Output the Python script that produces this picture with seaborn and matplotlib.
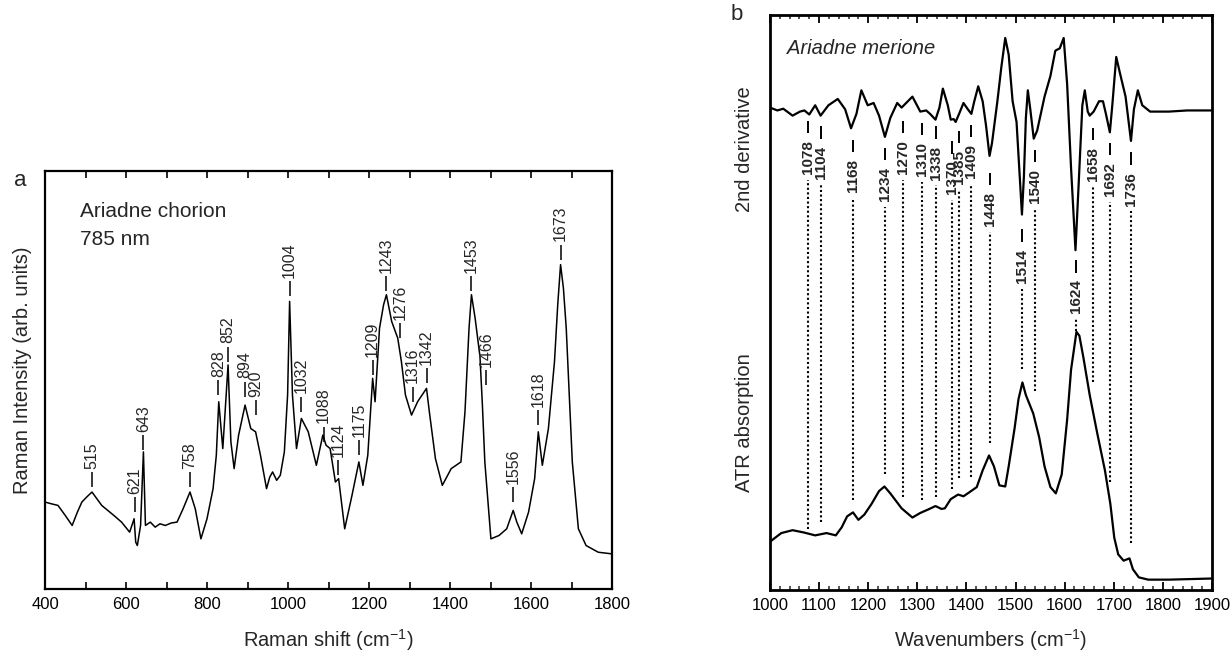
import matplotlib
matplotlib.use('Agg')
import matplotlib.pyplot as plt
import seaborn as sns
import pandas as pd
from matplotlib.ticker import MultipleLocator

# ---- panel a: Raman spectrum (arb. units 0-100)
raman_shift = [400, 415, 432, 450, 467, 480, 491, 503, 516, 528, 540, 555, 570, 589, 609,
               620, 624, 628, 636, 643, 648, 660, 672, 684, 697, 712, 726, 741, 758, 771,
               785, 800, 815, 823, 829, 839, 852, 859, 867, 878, 894, 908, 920, 932, 947,
               955, 962, 972, 981, 991, 999, 1004, 1011, 1021, 1033, 1050, 1070, 1086,
               1094, 1104, 1117, 1125, 1140, 1158, 1175, 1185, 1197, 1209, 1215, 1226,
               1236, 1243, 1256, 1271, 1280, 1290, 1305, 1320, 1342, 1349, 1364, 1381,
               1403, 1427, 1437, 1447, 1453, 1462, 1474, 1480, 1486, 1501, 1521, 1540,
               1556, 1565, 1577, 1594, 1609, 1618, 1628, 1643, 1658, 1666, 1673, 1680,
               1687, 1702, 1717, 1736, 1766, 1800]
raman_int = [20.8, 20.4, 20.0, 17.6, 15.2, 18.4, 20.8, 22.0, 23.2, 21.6, 20.0, 18.8, 17.6,
             16.0, 13.6, 16.8, 11.2, 10.4, 15.2, 32.8, 15.2, 16.0, 14.8, 15.6, 15.2, 15.8,
             16.0, 19.2, 23.2, 19.2, 12.0, 16.8, 24.0, 32.0, 44.8, 33.6, 53.6, 35.2, 28.8,
             36.8, 44.0, 38.4, 37.6, 32.0, 24.0, 26.8, 28.0, 26.0, 27.2, 32.8, 46.4, 68.8,
             46.4, 33.6, 40.8, 37.6, 29.6, 36.8, 34.4, 33.6, 25.6, 26.4, 14.4, 22.4, 30.4,
             24.8, 32.0, 50.4, 44.8, 62.4, 68.0, 70.4, 64.0, 60.0, 54.4, 46.4, 41.6, 44.8,
             48.0, 42.4, 31.2, 24.8, 28.8, 30.4, 42.4, 62.4, 70.4, 64.8, 55.6, 44.0, 30.4,
             12.0, 12.8, 14.4, 18.8, 16.0, 13.2, 18.4, 26.4, 37.6, 29.6, 38.4, 54.4, 68.0,
             77.6, 72.0, 62.4, 30.4, 14.4, 10.4, 8.8, 8.4]
raman_peaks = [515, 621, 643, 758, 828, 852, 894, 920, 1004, 1032, 1088, 1124, 1175,
               1209, 1243, 1276, 1316, 1342, 1453, 1466, 1556, 1618, 1673]
raman_tick_base = [24.4, 18.4, 33.2, 24.4, 46.4, 54.4, 46.0, 41.6, 70.0, 42.4, 35.2, 27.2,
                   32.0, 51.2, 71.2, 60.0, 44.8, 49.2, 71.2, 48.8, 20.8, 39.2, 78.8]
# a few labels sit slightly off their band in the original, to clear the curve
raman_label_shift = {1316: -8, 1466: 24}

# ---- panel b: FTIR, 2nd derivative and ATR absorption
d2_wn = [1000, 1015, 1027, 1046, 1061, 1070, 1080, 1092, 1103, 1119, 1138, 1153, 1165,
         1176, 1186, 1199, 1211, 1222, 1234, 1245, 1259, 1268, 1290, 1306, 1318, 1326,
         1337, 1345, 1352, 1362, 1368, 1374, 1378, 1385, 1394, 1402, 1410, 1416, 1424,
         1433, 1440, 1447, 1452, 1463, 1471, 1479, 1486, 1494, 1502, 1509, 1513, 1517,
         1521, 1525, 1530, 1537, 1544, 1559, 1571, 1581, 1590, 1598, 1605, 1613, 1622,
         1628, 1636, 1641, 1647, 1651, 1659, 1670, 1678, 1684, 1692, 1697, 1705, 1712,
         1724, 1735, 1741, 1749, 1758, 1774, 1812, 1850, 1900]
d2_val = [83.9, 83.4, 83.7, 82.5, 83.2, 83.4, 82.7, 84.3, 82.5, 84.3, 85.4, 83.6, 80.3,
          82.8, 86.9, 84.3, 84.7, 82.5, 78.8, 82.1, 84.7, 83.9, 85.8, 83.2, 83.4, 82.8,
          81.8, 83.9, 87.2, 84.3, 81.8, 81.9, 81.4, 82.8, 84.7, 83.7, 82.8, 85.0, 87.6,
          85.0, 80.7, 75.5, 77.7, 85.0, 90.9, 96.0, 93.1, 85.0, 81.4, 71.2, 65.3, 71.9,
          82.1, 86.9, 83.6, 78.5, 79.9, 85.8, 89.4, 93.8, 94.2, 96.0, 88.0, 73.4, 59.1,
          69.7, 84.3, 86.9, 83.2, 82.5, 83.2, 85.0, 85.0, 82.8, 79.6, 84.3, 92.7, 90.1,
          85.8, 78.1, 83.6, 86.9, 84.3, 83.2, 83.2, 83.4, 83.4]
atr_wn = [1000, 1023, 1046, 1069, 1092, 1115, 1134, 1146, 1157, 1169, 1180, 1192, 1207,
          1222, 1233, 1245, 1268, 1290, 1306, 1322, 1337, 1349, 1356, 1368, 1383, 1394,
          1406, 1421, 1433, 1446, 1456, 1467, 1479, 1486, 1498, 1506, 1514, 1521, 1536,
          1548, 1559, 1571, 1582, 1594, 1605, 1613, 1624, 1630, 1638, 1651, 1666, 1682,
          1693, 1701, 1709, 1720, 1732, 1739, 1751, 1770, 1812, 1900]
atr_val = [8.4, 9.9, 10.4, 10.0, 9.5, 9.9, 9.5, 10.9, 12.8, 13.5, 12.2, 13.1, 15.0, 17.2,
           18.0, 16.8, 14.2, 12.6, 13.4, 14.0, 14.6, 14.1, 14.2, 15.8, 16.6, 16.3, 17.0,
           17.9, 20.8, 23.4, 21.5, 18.2, 18.0, 21.5, 28.1, 33.2, 36.1, 33.9, 30.7, 26.6,
           21.5, 17.9, 16.8, 20.1, 29.6, 38.3, 44.9, 44.2, 40.5, 33.9, 27.4, 20.8, 15.0,
           9.1, 6.2, 5.1, 5.5, 3.6, 2.2, 1.8, 1.8, 2.0]
ir_peaks = [1078, 1104, 1168, 1234, 1270, 1310, 1338, 1370, 1385, 1409, 1448, 1514,
            1540, 1624, 1658, 1692, 1736]
ir_label_top = [78.2, 77.3, 74.9, 73.5, 78.2, 77.9, 77.3, 74.7, 76.5, 77.5, 69.2, 59.3,
                73.2, 54.0, 77.0, 74.4, 72.7]
ir_dot_bottom = [10.6, 11.8, 15.7, 20.1, 16.1, 15.7, 16.1, 17.6, 19.4, 19.7, 25.6, 38.4,
                 34.6, 45.0, 36.2, 18.7, 8.1]

sns.set_theme(style='ticks')
plt.rcParams['font.family'] = ['Liberation Sans', 'DejaVu Sans']
plt.rcParams['mathtext.fontset'] = 'custom'
plt.rcParams['mathtext.rm'] = 'Liberation Sans'
plt.rcParams['mathtext.it'] = 'Liberation Sans:italic'

W, H = 1230, 657
fig = plt.figure(figsize=(12.3, 6.57), dpi=100)
ax1 = fig.add_axes([45 / W, 1 - 589 / H, 567 / W, 418 / H])
ax2 = fig.add_axes([770 / W, 1 - 590 / H, 442 / W, 575 / H])

# ---------------- panel a
df_a = pd.DataFrame({'shift': raman_shift, 'intensity': raman_int})
sns.lineplot(data=df_a, x='shift', y='intensity', ax=ax1, color='black', lw=1.1,
             sort=False, estimator=None)
ax1.set_xlim(400, 1800)
ax1.set_ylim(0, 100)
ax1.set_xlabel('')
ax1.set_ylabel('')
ax1.set_yticks([])
ax1.xaxis.set_major_locator(MultipleLocator(200))
ax1.xaxis.set_minor_locator(MultipleLocator(100))
ax1.tick_params(axis='x', which='both', direction='in', top=True, length=5, width=1.2,
                labelsize=12, pad=6, colors='black')
for s in ax1.spines.values():
    s.set_linewidth(1.6)
    s.set_color('black')

for x, yb in zip(raman_peaks, raman_tick_base):
    tx = x + raman_label_shift.get(x, 0)
    ax1.vlines(tx, yb, yb + 3.6, color='black', lw=1.1)
    ax1.text(tx, yb + 4.4, str(x), rotation=90, ha='center', va='bottom', fontsize=11.5)

ax1.text(486, 90.4, 'Ariadne chorion', fontsize=15, va='center')
ax1.text(486, 83.6, '785 nm', fontsize=15, va='center')

# ---------------- panel b
df_d2 = pd.DataFrame({'wn': d2_wn, 'val': d2_val})
df_atr = pd.DataFrame({'wn': atr_wn, 'val': atr_val})
sns.lineplot(data=df_d2, x='wn', y='val', ax=ax2, color='black', lw=1.6, sort=False,
             estimator=None)
sns.lineplot(data=df_atr, x='wn', y='val', ax=ax2, color='black', lw=1.6, sort=False,
             estimator=None)
ax2.set_xlim(1000, 1900)
ax2.set_ylim(0, 100)
ax2.set_xlabel('')
ax2.set_ylabel('')
ax2.set_yticks([])
ax2.xaxis.set_major_locator(MultipleLocator(100))
ax2.xaxis.set_minor_locator(MultipleLocator(20))
ax2.tick_params(axis='x', which='major', direction='in', top=True, length=6, width=1.3,
                labelsize=12, pad=6, colors='black')
ax2.tick_params(axis='x', which='minor', direction='in', top=True, length=3, width=1.1)
for s in ax2.spines.values():
    s.set_linewidth(2)
    s.set_color('black')

ax2.text(1035, 94.2, 'Ariadne merione', fontsize=14.5, style='italic', va='center')

ir_texts = []
for x, yt in zip(ir_peaks, ir_label_top):
    ax2.vlines(x, yt + 1.2, yt + 3.4, color='black', lw=1.4)
    t = ax2.text(x, yt, str(x), rotation=90, ha='center', va='top', fontsize=11,
                 fontweight='bold')
    ir_texts.append(t)

fig.canvas.draw()
rend = fig.canvas.get_renderer()
for t, x, yb in zip(ir_texts, ir_peaks, ir_dot_bottom):
    bb = t.get_window_extent(rend)
    ytxt = ax2.transData.inverted().transform((0, bb.y0))[1] - 1.0
    ax2.vlines(x, yb, ytxt, color='black', lw=1.5, linestyles=(0, (1, 1.2)))

# ---------------- figure texts
fig.text(20 / W, 1 - 180 / H, 'a', fontsize=16, ha='center', va='center')
fig.text(737 / W, 1 - 14 / H, 'b', fontsize=16, ha='center', va='center')
fig.text(23 / W, 1 - 370 / H, 'Raman Intensity (arb. units)', rotation=90,
         fontsize=14.5, ha='center', va='center')
fig.text(744 / W, 1 - 149 / H, '2nd derivative', rotation=90, fontsize=14.5,
         ha='center', va='center')
fig.text(744 / W, 1 - 423 / H, 'ATR absorption', rotation=90, fontsize=14.5,
         ha='center', va='center')
fig.text(328 / W, 1 - 640 / H, 'Raman shift (cm$^{\\mathregular{-1}}$)', fontsize=14.5,
         ha='center', va='center')
fig.text(991 / W, 1 - 640 / H, 'Wavenumbers (cm$^{\\mathregular{-1}}$)', fontsize=14.5,
         ha='center', va='center')

fig.savefig('out.png', dpi=100, facecolor='white')
